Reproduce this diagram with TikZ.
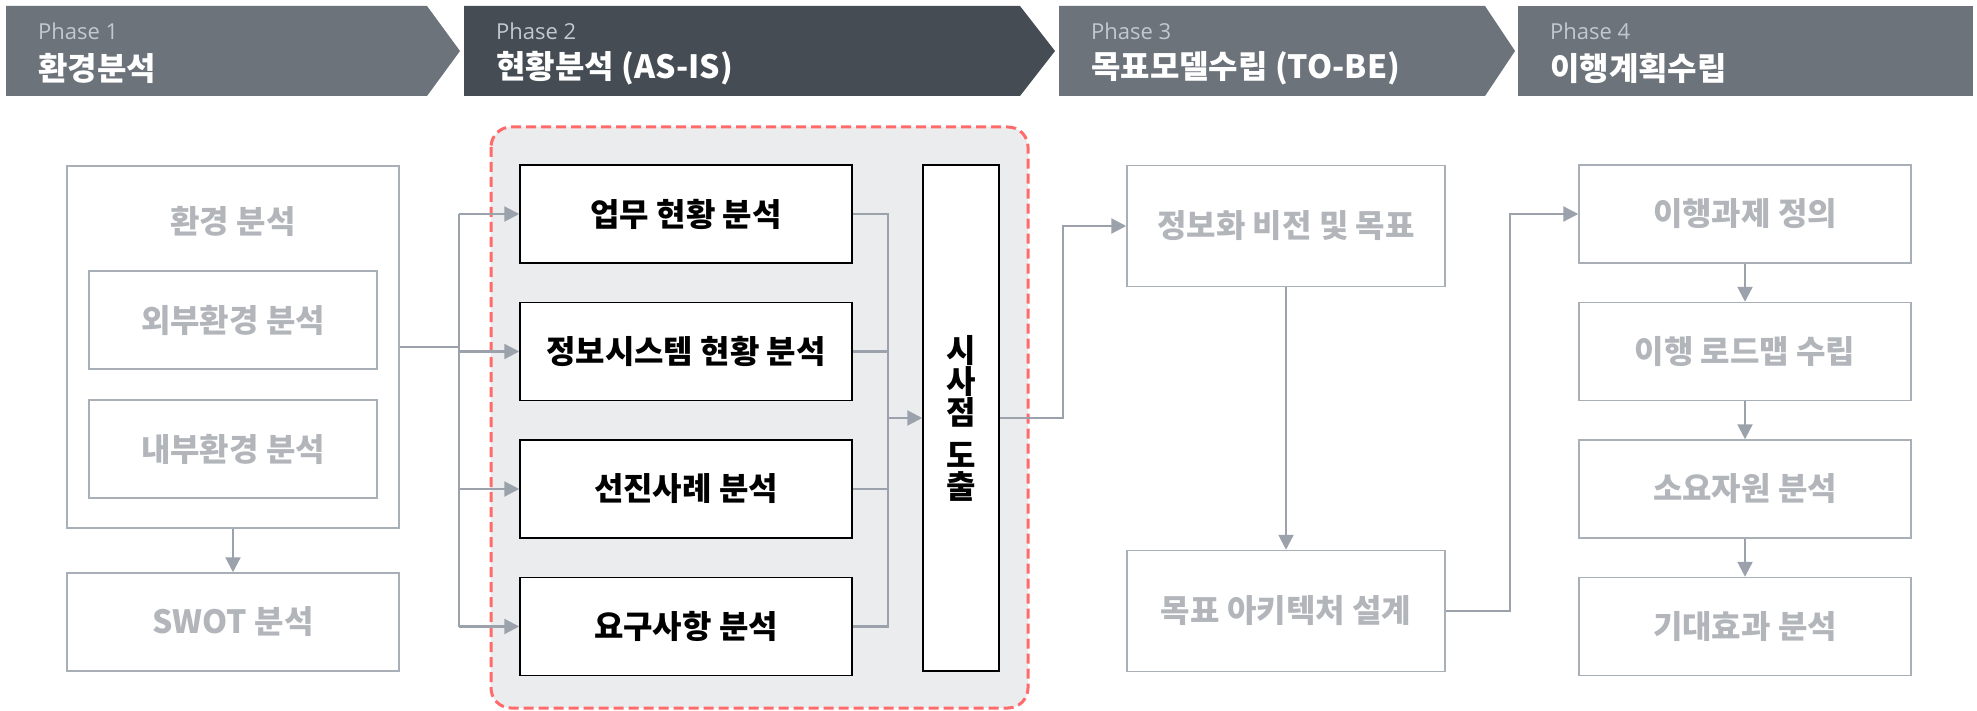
\documentclass[tikz,border=0pt]{standalone}
\usepackage{fontspec}
\setmainfont{Noto Sans CJK KR}
\newfontfamily\phasefont{Open Sans}
\usetikzlibrary{arrows.meta, positioning, calc}

\definecolor{bannergray}{HTML}{6C737B}
\definecolor{bannerdark}{HTML}{454C53}
\definecolor{phasetext}{HTML}{C3C8CE}
\definecolor{linegray}{HTML}{9BA2AC}
\definecolor{boxgray}{HTML}{A9AFB7}
\definecolor{textgray}{HTML}{B2B6BB}
\definecolor{panelgray}{HTML}{EBECEE}
\definecolor{dashred}{HTML}{FF6B6B}

\begin{document}
\begin{tikzpicture}[x=1pt, y=-1pt, node distance=38pt,
  every node/.style={font=\fontsize{32}{31}\selectfont\bfseries, inner sep=0pt},
  graybox/.style={rectangle, draw=boxgray, line width=1.5pt, fill=white, text=textgray, minimum width=332pt, minimum height=98pt},
  mainbox/.style={rectangle, draw=black, line width=1.5pt, fill=white, text=black, minimum width=332pt, minimum height=98pt},
  phase/.style={anchor=west, text=phasetext, font=\phasefont\fontsize{22}{26}\selectfont},
  phasetitle/.style={anchor=west, text=white},
  conn/.style={draw=linegray, line width=2.2pt},
  arr/.style={conn, -{Triangle[length=15pt, width=15pt]}}]
\useasboundingbox (0,0) rectangle (1977,711);
\fill[white] (0,0) rectangle (1977,711);

\fill[bannergray] (6,6) -- (427,6) -- (460,51) -- (427,96) -- (6,96) -- cycle;
\fill[bannerdark] (464,6) -- (1020,6) -- (1055,51) -- (1020,96) -- (464,96) -- cycle;
\fill[bannergray] (1059,6) -- (1485,6) -- (1515,51) -- (1485,96) -- (1059,96) -- cycle;
\fill[bannergray] (1518,6) -- (1973,6) -- (1973,96) -- (1518,96) -- cycle;
\node (p1) [phase] at (38,31) {Phase 1};
\node (t1) [phasetitle] at (38,68) {환경분석};
\node (p2) [phase] at (496,31) {Phase 2};
\node (t2) [phasetitle] at (496,68) {현황분석 (AS-IS)};
\node (p3) [phase] at (1091,31) {Phase 3};
\node (t3) [phasetitle] at (1091,68) {목표모델수립 (TO-BE)};
\node (p4) [phase] at (1550,31) {Phase 4};
\node (t4) [phasetitle] at (1550,68) {이행계획수립};

\draw[dashred, line width=3pt, dash pattern=on 10pt off 5pt, fill=panelgray, rounded corners=20pt] (491,127) rectangle (1028,708);

\node (env) [graybox, minimum height=362pt] at (233,347) {};
\node (envtitle) [text=textgray] at (233,221) {환경 분석};
\node (ext) [graybox, minimum width=288pt] at (233,320) {외부환경 분석};
\node (int) [graybox, minimum width=288pt] at (233,449) {내부환경 분석};
\node (swot) [graybox] at (233,622) {SWOT 분석};

\node (work) [mainbox] at (686,214) {업무 현황 분석};
\node (sys) [mainbox, below=of work] {정보시스템 현황 분석};
\node (best) [mainbox, below=of sys] {선진사례 분석};
\node (req) [mainbox, below=of best] {요구사항 분석};
\node (insight) [mainbox, minimum width=76pt, minimum height=506pt, align=center] at (961,418) {시\\사\\점\\[12pt]도\\출};

\node (vision) [graybox, minimum width=318pt, minimum height=121pt] at (1286,226) {정보화 비전 및 목표};
\node (arch) [graybox, minimum width=318pt, minimum height=121pt] at (1286,611) {목표 아키텍처 설계};

\node (task) [graybox] at (1745,214) {이행과제 정의};
\node (road) [graybox, below=of task] {이행 로드맵 수립};
\node (res) [graybox, below=of road] {소요자원 분석};
\node (eff) [graybox, below=of res] {기대효과 분석};

\coordinate (busL) at (459,0);
\coordinate (busM) at (888,0);
\coordinate (busR) at (1063,0);
\coordinate (busT) at (1510,0);

\draw[arr] (env.south) -- (swot.north);
\draw[conn] (env.east) -- (env.east -| busL);
\draw[conn] (busL |- work) -- (busL |- req);
\draw[arr] (busL |- work) -- (work.west);
\draw[arr] (busL |- sys) -- (sys.west);
\draw[arr] (busL |- best) -- (best.west);
\draw[arr] (busL |- req) -- (req.west);

\draw[conn] (work.east) -- (work.east -| busM) -- (req.east -| busM) -- (req.east);
\draw[conn] (sys.east) -- (sys.east -| busM);
\draw[conn] (best.east) -- (best.east -| busM);
\draw[arr] (busM |- insight) -- (insight.west);

\draw[arr] (insight.east) -- (insight.east -| busR) |- (vision.west);
\draw[arr] (vision.south) -- (arch.north);
\draw[arr] (arch.east) -- (arch.east -| busT) |- (task.west);

\draw[arr] (task.south) -- (road.north);
\draw[arr] (road.south) -- (res.north);
\draw[arr] (res.south) -- (eff.north);
\end{tikzpicture}
\end{document}
